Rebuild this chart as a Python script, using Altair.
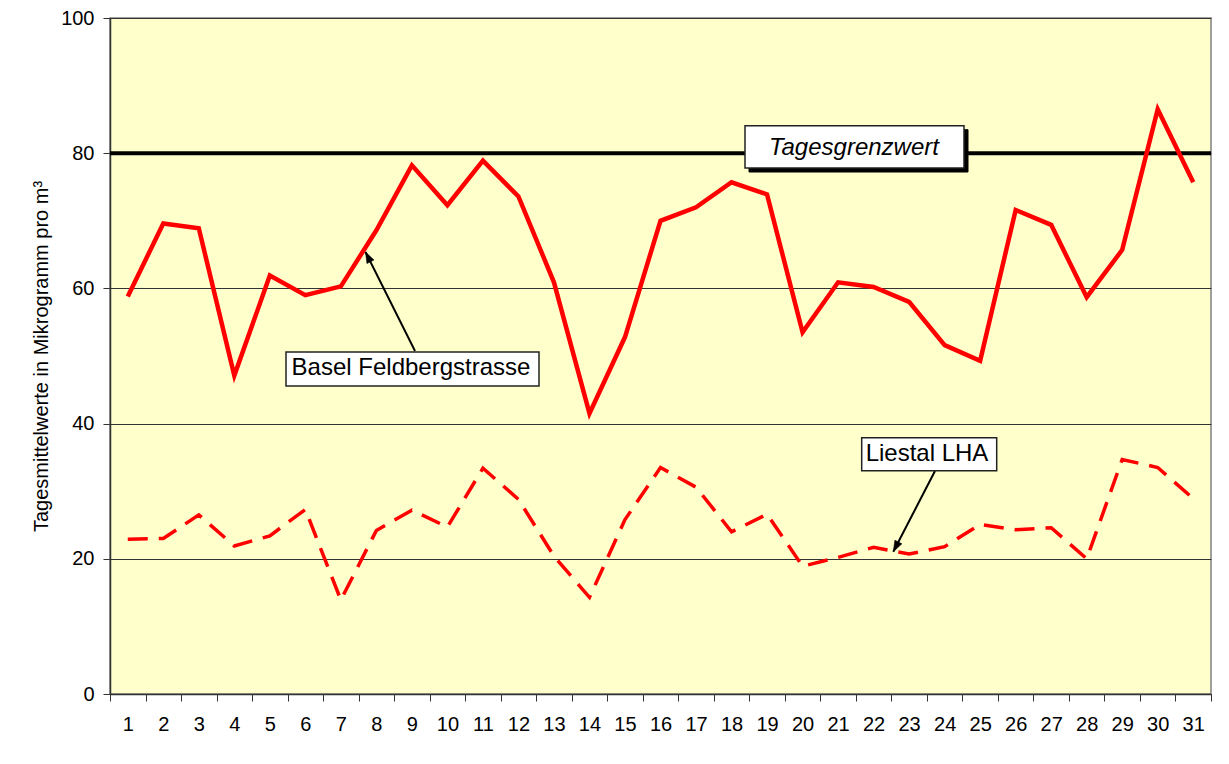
import altair as alt
import pandas as pd

# ---- data ----
days = list(range(1, 32))
basel = [58.8, 69.6, 68.9, 47.1, 61.9, 59.0, 60.3, 68.6, 78.2, 72.3,
         78.9, 73.6, 60.9, 41.5, 52.8, 70.0, 72.0, 75.7, 73.9, 53.5,
         60.9, 60.2, 58.0, 51.6, 49.3, 71.6, 69.4, 58.7, 65.7, 86.5, 75.7]
liestal = [22.9, 23.0, 26.5, 21.9, 23.4, 27.3, 13.9, 24.2, 27.2, 24.7,
           33.4, 28.8, 20.4, 14.3, 25.8, 33.5, 30.6, 24.0, 26.6, 18.9,
           20.2, 21.7, 20.7, 21.8, 25.1, 24.3, 24.6, 20.0, 34.7, 33.5, 28.9]
grenzwert = 80
grenzwert_label = "Tagesgrenzwert"
series_labels = ["Basel Feldbergstrasse", "Liestal LHA"]
y_ticks = [0, 20, 40, 60, 80, 100]
y_title = "Tagesmittelwerte in Mikrogramm pro m³"

df = pd.DataFrame({"Tag": days, "Basel": basel, "Liestal": liestal})

FONT = "Liberation Sans"
W, H = 1101, 676

x_enc = alt.X(
    "Tag:O",
    scale=alt.Scale(type="band", paddingInner=0, paddingOuter=0),
    axis=alt.Axis(
        title=None, labelAngle=0, labelFont=FONT, labelFontSize=20,
        labelColor="black", labelPadding=13, tickBand="extent",
        tickSize=7, tickColor="#333333", domainColor="#333333",
        domainWidth=1.5, grid=False,
    ),
)
y_scale = alt.Scale(domain=[0, 100], nice=False)

base_y_axis = alt.Axis(
    values=y_ticks, grid=True, gridColor="#333333", gridWidth=1,
    domainColor="#333333", domainWidth=1.5, tickColor="#333333", tickSize=7,
    labelFont=FONT, labelFontSize=20, labelColor="black", labelPadding=9,
    title=y_title, titleFont=FONT, titleFontSize=20, titleFontWeight="normal",
    titleColor="black", titleX=-69, titleY=H / 2, titleBaseline="middle",
    titleAngle=270,
)

base = alt.Chart(df)

line_basel = base.mark_line(color="#FF0000", strokeWidth=4.5).encode(
    x=x_enc, y=alt.Y("Basel:Q", scale=y_scale, axis=base_y_axis)
)
line_liestal = base.mark_line(
    color="#FF0000", strokeWidth=3.5, strokeDash=[20, 11], strokeCap="butt"
).encode(x=x_enc, y=alt.Y("Liestal:Q", scale=y_scale))

gw_df = pd.DataFrame({"gw": [grenzwert]})
rule_gw = alt.Chart(gw_df).mark_rule(color="black", strokeWidth=4).encode(
    y=alt.Y("gw:Q", scale=y_scale)
)

dummy = pd.DataFrame({"a": [0]})


def box(x1, x2, y1, y2, fill="white", stroke="#222222", sw=1.5):
    return alt.Chart(dummy).mark_rect(fill=fill, stroke=stroke, strokeWidth=sw).encode(
        x=alt.value(x1), x2=alt.value(x2), y=alt.value(y1), y2=alt.value(y2)
    )


def label(txt, x, y, italic=False):
    return alt.Chart(dummy).mark_text(
        text=txt, font=FONT, fontSize=24, color="black", align="center",
        baseline="alphabetic", fontStyle="italic" if italic else "normal",
    ).encode(x=alt.value(x), y=alt.value(y))


def arrow(x1, y1, x2, y2, ang):
    shaft = alt.Chart(dummy).mark_rule(color="black", strokeWidth=2).encode(
        x=alt.value(x1), y=alt.value(y1), x2=alt.value(x2), y2=alt.value(y2)
    )
    head = alt.Chart(dummy).mark_point(
        shape="M0,0L-0.36,1L0.36,1Z", filled=True, fill="black", stroke="black",
        strokeWidth=0.5, opacity=1, size=480, angle=ang,
    ).encode(x=alt.value(x2), y=alt.value(y2))
    return shaft + head


# Tagesgrenzwert label with shadow
gw_shadow = box(639, 858, 111.7, 154, fill="black", stroke="black", sw=1)
gw_box = box(635, 854, 107.7, 150)
gw_text = label(grenzwert_label, 744, 137, italic=True)

# Basel label + arrow
basel_arrow = arrow(305, 333, 255.5, 234, 333.2)
basel_box = box(176, 429, 334, 368)
basel_text = label(series_labels[0], 301, 357)

# Liestal label + arrow
liestal_arrow = arrow(825, 453, 783.3, 533.7, 207.7)
liestal_box = box(751.7, 886.7, 419.7, 452.7)
liestal_text = label(series_labels[1], 817, 443)

chart = alt.layer(
    rule_gw, line_liestal, line_basel,
    gw_shadow, gw_box, gw_text,
    basel_arrow, basel_box, basel_text,
    liestal_arrow, liestal_box, liestal_text,
).properties(
    width=W, height=H,
    autosize=alt.AutoSizeParams(type="none"),
    padding={"left": 102, "top": 10, "right": 10, "bottom": 60},
    background="white",
).configure_view(
    fill="#FFFFCC", stroke="#808080", strokeWidth=1.5
)

chart.save("out.html", embed_options={"renderer": "svg", "actions": False})
